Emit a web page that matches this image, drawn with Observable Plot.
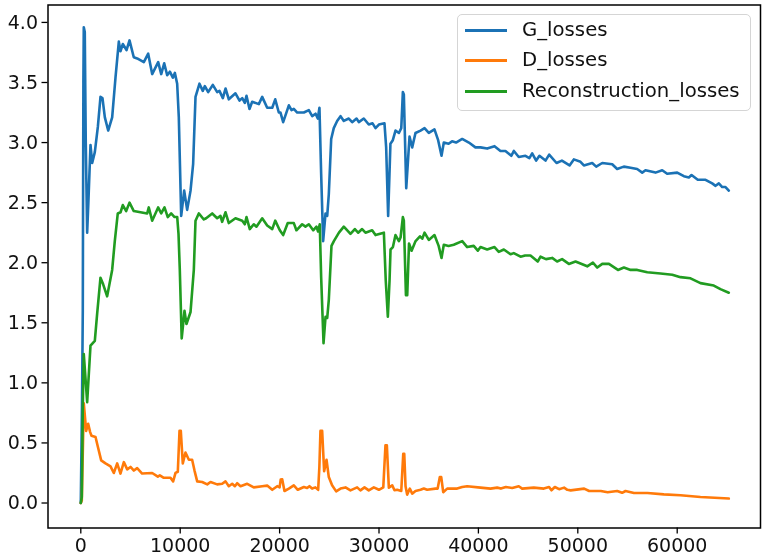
<!DOCTYPE html>
<html>
<head>
<meta charset="utf-8">
<script src="https://cdn.jsdelivr.net/npm/d3@7"></script>
<script src="https://cdn.jsdelivr.net/npm/@observablehq/plot@0.6"></script>
<style>
  body { margin: 0; background: white; font-family: "DejaVu Sans", sans-serif; }
  #chart { position: relative; width: 765px; height: 559px; overflow: hidden; filter: blur(0.4px); }
  #chart svg { display: block; }
  #legend {
    position: absolute; left: 457px; top: 14px; width: 292px; height: 95px;
    border: 1.5px solid #d5d5d5; border-radius: 5px; background: white;
    font-size: 19.7px; color: #111;
  }
  .legend-line { position: absolute; left: 0; right: 0; height: 24px; line-height: 24px; white-space: nowrap; }
  .legend-swatch { position: absolute; left: 7px; top: 11px; width: 42px; height: 2.8px; }
  .legend-text { position: absolute; left: 64px; top: 0; }
</style>
</head>
<body>
<div id="chart"></div>
<script>
// [step, loss] pairs
const gLosses = [[0,0],[120,0.8],[200,1.6],[260,3.5],[300,3.96],[400,3.92],[500,3.0],[640,2.25],[760,2.5],[975,2.98],[1145,2.83],[1410,2.92],[1715,3.13],[1980,3.38],[2180,3.37],[2420,3.21],[2755,3.10],[3155,3.21],[3490,3.54],[3825,3.84],[3990,3.76],[4225,3.82],[4600,3.77],[4900,3.85],[5330,3.71],[5670,3.70],[6340,3.67],[6780,3.74],[7180,3.57],[7785,3.67],[8090,3.57],[8390,3.66],[8690,3.56],[8960,3.59],[9260,3.54],[9460,3.58],[9695,3.49],[9860,3.21],[10100,2.39],[10400,2.60],[10700,2.44],[11040,2.60],[11300,2.82],[11540,3.38],[11940,3.49],[12270,3.43],[12480,3.47],[12815,3.42],[13280,3.48],[13720,3.42],[13950,3.43],[14290,3.37],[14560,3.45],[14890,3.36],[15560,3.41],[15970,3.35],[16240,3.37],[16500,3.33],[16670,3.39],[16970,3.28],[17240,3.34],[17910,3.32],[18250,3.38],[18750,3.29],[19260,3.29],[19560,3.36],[19920,3.25],[20090,3.25],[20360,3.17],[20930,3.31],[21200,3.27],[21430,3.28],[21770,3.25],[22440,3.25],[22940,3.27],[23280,3.22],[23620,3.24],[23840,3.20],[24010,3.29],[24180,2.74],[24380,2.18],[24620,2.41],[24790,2.39],[24950,2.57],[25190,3.03],[25450,3.12],[25790,3.18],[26130,3.22],[26460,3.18],[26960,3.20],[27300,3.17],[27740,3.20],[27970,3.17],[28470,3.20],[28970,3.15],[29350,3.16],[29650,3.12],[29990,3.15],[30550,3.16],[30720,2.96],[30920,2.39],[31150,2.99],[31390,3.02],[31660,3.10],[32000,3.08],[32240,3.12],[32400,3.42],[32500,3.40],[32740,2.62],[33070,3.05],[33340,2.96],[33670,3.08],[34180,3.10],[34580,3.12],[35010,3.08],[35580,3.11],[35950,3.02],[36290,2.89],[36520,3.00],[37000,2.99],[37350,3.01],[37750,3.00],[38370,3.03],[39040,3.00],[39700,2.96],[40210,2.96],[40880,2.95],[41620,2.97],[42220,2.93],[42720,2.93],[43310,2.89],[43570,2.93],[44060,2.88],[44730,2.89],[45130,2.87],[45410,2.91],[45810,2.85],[46140,2.89],[46750,2.85],[47120,2.90],[47860,2.83],[48400,2.85],[49170,2.81],[49600,2.86],[50270,2.84],[50610,2.81],[51450,2.83],[51850,2.80],[52460,2.83],[53460,2.82],[53960,2.78],[54630,2.80],[55300,2.79],[55970,2.78],[56480,2.75],[56810,2.77],[57820,2.75],[58490,2.77],[58990,2.74],[60000,2.75],[60670,2.72],[61170,2.71],[61440,2.73],[62070,2.69],[62850,2.69],[63520,2.66],[63860,2.64],[64190,2.66],[64530,2.63],[64860,2.63],[65190,2.60]];

const dLosses = [[0,0],[100,0.02],[220,0.5],[300,0.83],[540,0.60],[740,0.66],[940,0.59],[1075,0.56],[1480,0.55],[1710,0.47],[2050,0.355],[2485,0.33],[2990,0.305],[3320,0.25],[3660,0.33],[3990,0.245],[4330,0.34],[4670,0.28],[5000,0.30],[5340,0.27],[5670,0.29],[6170,0.245],[7180,0.25],[7750,0.22],[7950,0.23],[8350,0.21],[9020,0.21],[9290,0.18],[9530,0.25],[9760,0.26],[9930,0.60],[10060,0.60],[10260,0.33],[10530,0.42],[10870,0.36],[11200,0.36],[11440,0.27],[11710,0.18],[12210,0.175],[12720,0.155],[13050,0.175],[13720,0.155],[14220,0.16],[14560,0.18],[14890,0.14],[15230,0.16],[15500,0.14],[15730,0.165],[16070,0.14],[16740,0.16],[17400,0.13],[18250,0.14],[18750,0.145],[19260,0.11],[19760,0.14],[20000,0.13],[20110,0.195],[20260,0.197],[20490,0.10],[20930,0.12],[21430,0.147],[21830,0.11],[22440,0.133],[22770,0.125],[23000,0.14],[23270,0.12],[23600,0.13],[23880,0.11],[24000,0.30],[24110,0.60],[24280,0.60],[24480,0.265],[24720,0.36],[24950,0.216],[25280,0.147],[25690,0.097],[26130,0.12],[26630,0.13],[27130,0.105],[27800,0.13],[28130,0.105],[28540,0.13],[28970,0.105],[29480,0.13],[29990,0.11],[30430,0.13],[30650,0.48],[30790,0.48],[30990,0.128],[31330,0.147],[31560,0.106],[31830,0.11],[32240,0.10],[32440,0.41],[32540,0.41],[32670,0.14],[32830,0.07],[33100,0.12],[33340,0.078],[33670,0.10],[34180,0.11],[34510,0.12],[34840,0.11],[35680,0.12],[35900,0.12],[36120,0.216],[36260,0.216],[36460,0.09],[36860,0.12],[37350,0.12],[37860,0.12],[38370,0.133],[38870,0.14],[40210,0.128],[41220,0.12],[41890,0.128],[42260,0.12],[42760,0.133],[43400,0.125],[44060,0.14],[44400,0.12],[45570,0.128],[46580,0.12],[47110,0.133],[47350,0.106],[47690,0.133],[48120,0.115],[48620,0.128],[48950,0.11],[49280,0.105],[50640,0.12],[51140,0.10],[52310,0.10],[53000,0.089],[53960,0.10],[54460,0.085],[54800,0.10],[55650,0.083],[57000,0.083],[58660,0.072],[60330,0.064],[62340,0.05],[65190,0.037]];

const reconLosses = [[0,0],[100,0.05],[200,0.8],[300,1.24],[640,0.84],[975,1.31],[1410,1.35],[1650,1.58],[1980,1.875],[2250,1.82],[2650,1.72],[3155,1.94],[3420,2.18],[3720,2.41],[4000,2.42],[4225,2.48],[4565,2.43],[4900,2.50],[5330,2.43],[6000,2.42],[6680,2.41],[6840,2.46],[7180,2.35],[7780,2.46],[8090,2.41],[8420,2.46],[8750,2.38],[9090,2.41],[9430,2.38],[9700,2.38],[9830,2.24],[9960,1.94],[10150,1.37],[10430,1.60],[10630,1.49],[11040,1.59],[11370,1.94],[11540,2.35],[11870,2.41],[12375,2.36],[12610,2.37],[13220,2.41],[13720,2.37],[14050,2.39],[14220,2.34],[14560,2.42],[14890,2.33],[15560,2.37],[16240,2.35],[16500,2.32],[16670,2.38],[17000,2.28],[17400,2.32],[17670,2.30],[18250,2.37],[18750,2.31],[19260,2.28],[19560,2.35],[20020,2.27],[20360,2.23],[20820,2.33],[21430,2.33],[21690,2.27],[22270,2.32],[22600,2.30],[22940,2.32],[23380,2.27],[23710,2.30],[23870,2.26],[24040,2.32],[24180,1.88],[24420,1.33],[24620,1.55],[24790,1.54],[24950,1.69],[25220,2.14],[25460,2.18],[25970,2.25],[26460,2.30],[27130,2.24],[27570,2.28],[27900,2.25],[28300,2.28],[28640,2.25],[29310,2.27],[29650,2.23],[30490,2.25],[30680,1.85],[30890,1.55],[31060,1.85],[31160,2.11],[31400,2.13],[31660,2.23],[32000,2.18],[32170,2.21],[32400,2.38],[32500,2.35],[32710,1.73],[32840,1.73],[33020,2.16],[33280,2.10],[33680,2.18],[34120,2.22],[34350,2.20],[34580,2.25],[35010,2.19],[35580,2.23],[36000,2.14],[36290,2.04],[36520,2.15],[37000,2.14],[37520,2.15],[38370,2.18],[38870,2.13],[39530,2.14],[39940,2.10],[40210,2.13],[40880,2.11],[41620,2.13],[42050,2.09],[42560,2.11],[43230,2.07],[43560,2.08],[44240,2.05],[44700,2.06],[45240,2.06],[45970,2.01],[46250,2.05],[46800,2.03],[47420,2.04],[47920,2.01],[48420,2.03],[49100,1.99],[49770,2.01],[50950,1.97],[51520,2.00],[51960,1.96],[52460,1.99],[53130,1.99],[54040,1.94],[54640,1.96],[55310,1.94],[55980,1.94],[56990,1.92],[58320,1.91],[59500,1.90],[60330,1.88],[61340,1.87],[62340,1.83],[63680,1.81],[64350,1.78],[65190,1.75]];

const lossNames = ["G_losses", "D_losses", "Reconstruction_losses"];
const lossColors = ["#1b72b5", "#ff7a0a", "#219c21"];
const xTicks = [0, 10000, 20000, 30000, 40000, 50000, 60000];
const yTicks = [0, 0.5, 1, 1.5, 2, 2.5, 3, 3.5, 4];

function createLegend(container) {
  const legend = document.createElement("div");
  legend.id = "legend";
  lossNames.forEach((name, i) => {
    const row = document.createElement("div");
    row.className = "legend-line";
    row.style.top = [3, 33, 64][i] + "px";
    const swatch = document.createElement("div");
    swatch.className = "legend-swatch";
    swatch.style.backgroundColor = lossColors[i];
    const text = document.createElement("div");
    text.className = "legend-text";
    text.textContent = name;
    row.appendChild(swatch);
    row.appendChild(text);
    legend.appendChild(row);
  });
  container.appendChild(legend);
}

function drawChart() {
  const container = document.getElementById("chart");
  const lineOptions = { strokeWidth: 2.6, strokeLinejoin: "round" };

  const chart = Plot.plot({
    width: 765,
    height: 559,
    marginLeft: 47.5,
    marginRight: 5,
    marginTop: 4.5,
    marginBottom: 31.5,
    style: { fontFamily: "DejaVu Sans", fontSize: "19px", color: "#111", background: "white" },
    x: { domain: [-3300, 68380] },
    y: { domain: [-0.208, 4.145] },
    marks: [
      Plot.axisX({ ticks: xTicks, tickFormat: (d) => String(d), tickSize: 6, tickPadding: 4, label: null, stroke: "black", strokeWidth: 1.3 }),
      Plot.axisY({ ticks: yTicks, tickFormat: (d) => d.toFixed(1), tickSize: 6, tickPadding: 4, label: null, stroke: "black", strokeWidth: 1.3 }),
      Plot.line(gLosses, { ...lineOptions, stroke: lossColors[0] }),
      Plot.line(dLosses, { ...lineOptions, stroke: lossColors[1] }),
      Plot.line(reconLosses, { ...lineOptions, stroke: lossColors[2] }),
      Plot.frame({ stroke: "black", strokeWidth: 1.5 }),
    ],
  });

  container.appendChild(chart);
  createLegend(container);
}

drawChart();
</script>
</body>
</html>
